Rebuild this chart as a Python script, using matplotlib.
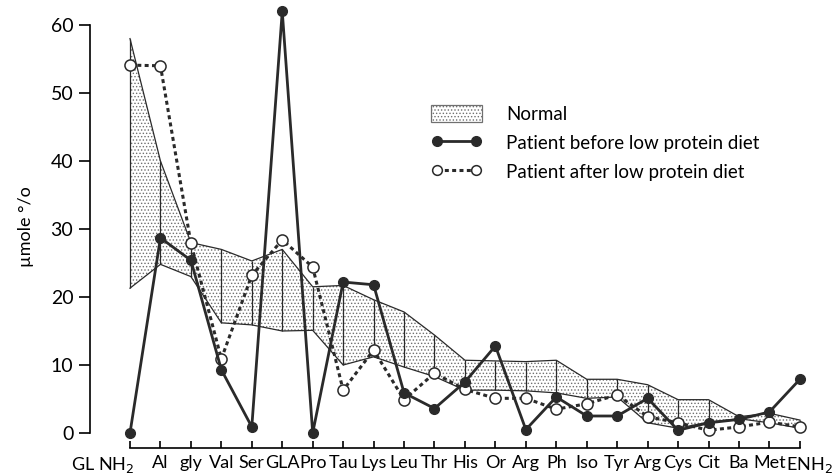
import numpy as np
import matplotlib.pyplot as plt
from matplotlib.patches import Patch
from matplotlib.lines import Line2D
from matplotlib.transforms import ScaledTranslation

plt.rcParams['font.family'] = ['Lato', 'DejaVu Sans']
plt.rcParams['hatch.linewidth'] = 0.6

# amino acids along the x axis
amino = ['GL NH$_2$', 'Al', 'gly', 'Val', 'Ser', 'GLA', 'Pro', 'Tau', 'Lys', 'Leu',
         'Thr', 'His', 'Or', 'Arg', 'Ph', 'Iso', 'Tyr', 'Arg', 'Cys', 'Cit',
         'Ba', 'Met', 'ENH$_2$']

# normal range (umole %)
normal_hi = [58, 40, 28, 27, 25.3, 27, 21.5, 21.7, 19.6, 17.8, 14.4, 10.7,
             10.6, 10.5, 10.7, 7.9, 7.9, 7.1, 4.9, 4.9, 2.4, 2.9, 1.9]
normal_lo = [21.3, 24.8, 23, 16.2, 15.9, 15, 15.1, 10, 11.2, 9.7, 8.3, 6.3,
             6.3, 6.2, 5.9, 5.1, 5.3, 1.5, 0.7, 1.6, 2.1, 1.5, 0.7]

# patient
before = [0, 28.7, 25.4, 9.3, 0.9, 62, 0, 22.2, 21.8, 5.9, 3.6, 7.5,
          12.8, 0.5, 5.3, 2.5, 2.5, 5.1, 0.4, 1.5, 2.0, 3.1, 7.9]
after = [54.1, 54, 27.9, 10.9, 23.2, 28.4, 24.4, 6.3, 12.2, 4.9, 8.8, 6.4,
         5.1, 5.1, 3.5, 4.3, 5.6, 2.4, 1.5, 0.4, 0.9, 1.6, 0.9]

ink = '#2a2a2a'
x = np.arange(len(amino))

fig = plt.figure(figsize=(8.36, 4.76), dpi=100)
ax = fig.add_axes([90/836, 28/476, 730/836, 443/476])

ax.fill_between(x, normal_lo, normal_hi, facecolor='white', edgecolor='#707070',
                hatch='.....', linewidth=0, zorder=1)
ax.plot(x, normal_hi, color=ink, lw=0.9, zorder=2)
ax.plot(x, normal_lo, color=ink, lw=0.9, zorder=2)
ax.vlines(x, normal_lo, normal_hi, color=ink, lw=0.9, zorder=2)

ax.plot(x, after, color=ink, lw=2.2, ls=(0, (1.3, 1.1)), marker='o', ms=8,
        mfc='white', mec=ink, mew=1.1, zorder=3)
ax.plot(x, before, color=ink, lw=2.0, marker='o', ms=7, mfc=ink, mec=ink, zorder=4)

ax.set_xlim(-40/30.45, 690/30.45)
ax.set_ylim(-15/6.8, 428/6.8)

for s in ['top', 'right']:
    ax.spines[s].set_visible(False)
ax.spines['left'].set_bounds(0, 60)
ax.spines['bottom'].set_bounds(0, len(amino) - 1)
ax.spines['left'].set_linewidth(1.2)
ax.spines['bottom'].set_linewidth(1.2)

ax.set_yticks(np.arange(0, 61, 10))
ax.tick_params(axis='y', direction='out', length=8, width=1.2, pad=4, labelsize=14)
ax.set_xticks(x)
ax.set_xticklabels(amino)
ax.tick_params(axis='x', direction='in', length=5, width=1.2, pad=5, labelsize=13)

# first and last labels sit off-centre like in the original
lbls = ax.get_xticklabels()
lbls[0].set_horizontalalignment('right')
lbls[0].set_transform(lbls[0].get_transform() + ScaledTranslation(0.04, 0, fig.dpi_scale_trans))
lbls[-1].set_horizontalalignment('left')
lbls[-1].set_transform(lbls[-1].get_transform() + ScaledTranslation(-0.14, 0, fig.dpi_scale_trans))

ax.set_ylabel('µmole °/o', fontsize=13, labelpad=12)

handles = [
    Patch(facecolor='white', edgecolor='#707070', hatch='.....', linewidth=0.9),
    Line2D([0], [0], color=ink, lw=2.0, marker='o', ms=7, mfc=ink, mec=ink),
    Line2D([0], [0], color=ink, lw=2.2, ls=(0, (1.3, 1.1)), marker='o', ms=7,
           mfc='white', mec=ink, mew=1.1),
]
labels = ['Normal', 'Patient before low protein diet', 'Patient after low protein diet']
ax.legend(handles, labels, loc='upper left', bbox_to_anchor=(414/836, 1 - 88/476),
          bbox_transform=fig.transFigure, frameon=False, fontsize=13.5,
          handlelength=2.7, handleheight=1.0, numpoints=2, labelspacing=0.6,
          handletextpad=1.3)

fig.savefig('out.png', dpi=100)
